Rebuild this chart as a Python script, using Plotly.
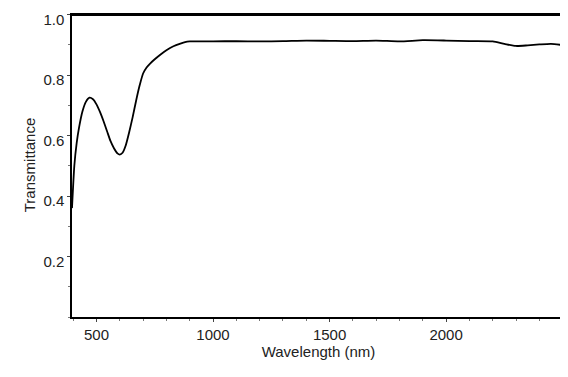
import plotly.graph_objects as go

# espectro de transmitancia
wavelength = [395, 405, 415, 425, 440, 455, 470, 485, 500, 515, 530, 545, 560, 575, 590, 600,
              612, 625, 640, 655, 670, 685, 700, 715, 730, 750, 775, 800, 830, 860, 880, 900,
              1000, 1100, 1200, 1300, 1400, 1500, 1600, 1700, 1800, 1900, 2000, 2100, 2200,
              2250, 2300, 2350, 2400, 2450, 2510]
transmittance = [0.36, 0.50, 0.575, 0.625, 0.68, 0.712, 0.725, 0.72, 0.703, 0.678, 0.648,
                 0.615, 0.582, 0.558, 0.541, 0.537, 0.543, 0.566, 0.61, 0.66, 0.715, 0.765,
                 0.805, 0.825, 0.838, 0.852, 0.868, 0.882, 0.895, 0.904, 0.909, 0.911,
                 0.911, 0.912, 0.911, 0.912, 0.914, 0.913, 0.912, 0.914, 0.911, 0.915, 0.914,
                 0.912, 0.911, 0.903, 0.896, 0.898, 0.901, 0.903, 0.898]

# linea de referencia (100 %)
ref_wavelength = [395, 2505]
ref_transmittance = [1.0, 1.0]

fig = go.Figure()
fig.add_trace(go.Scatter(x=ref_wavelength, y=ref_transmittance, mode='lines',
                         line=dict(color='black', width=3), cliponaxis=False))
fig.add_trace(go.Scatter(x=wavelength, y=transmittance, mode='lines',
                         line=dict(color='black', width=1.8, shape='spline', smoothing=0.6)))

# el body de la pagina tiene 8px de margen
fig.update_layout(
    width=560, height=369,
    margin=dict(l=64, r=3, t=5, b=60),
    paper_bgcolor='white', plot_bgcolor='white',
    showlegend=False,
    font=dict(family='Liberation Sans, Arial', size=15, color='#222'),
)
fig.update_xaxes(
    range=[395, 2510], tickvals=[500, 1000, 1500, 2000],
    showgrid=False, zeroline=False, automargin=False,
    showline=True, linecolor='black', linewidth=1.5,
    ticks='outside', ticklen=3, tickcolor='#444',
    minor=dict(dtick=100, ticks='outside', ticklen=2, tickcolor='#777'),
    title=dict(text='Wavelength (nm)', standoff=2, font=dict(size=15)),
)
fig.update_yaxes(
    range=[0, 1.005], tickvals=[0.2, 0.4, 0.6, 0.8, 1.0],
    ticktext=['0.2', '0.4', '0.6', '0.8', '1.0'],
    ticklabelshift=5, ticklabeloverflow='allow',
    showgrid=False, zeroline=False, automargin=False,
    showline=True, linecolor='black', linewidth=1.5, mirror=True,
    ticks='outside', ticklen=3, tickcolor='#444',
    minor=dict(dtick=0.1, ticks='outside', ticklen=2, tickcolor='#777'),
    title=dict(text='Transmittance', standoff=4, font=dict(size=15)),
)

fig.write_html("out.html")
